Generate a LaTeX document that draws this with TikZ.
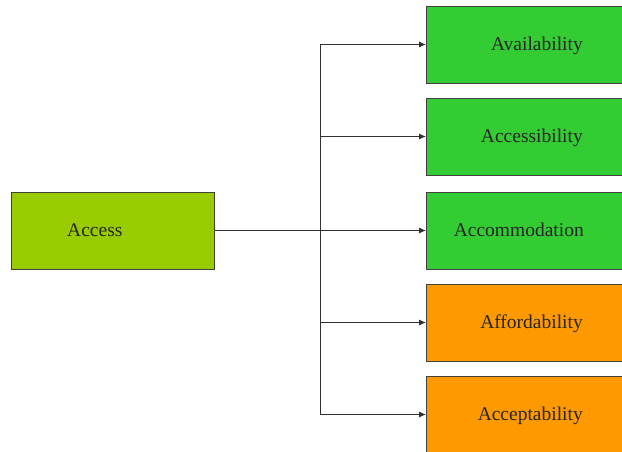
\documentclass[tikz,border=0pt]{standalone}
\usepackage{fontspec}
\setmainfont{Liberation Serif}
\usetikzlibrary{arrows.meta}
\definecolor{accessgreen}{HTML}{99CC00}
\definecolor{boxgreen}{HTML}{33CC33}
\definecolor{boxorange}{HTML}{FF9900}
\definecolor{edge}{HTML}{404040}
\definecolor{wire}{HTML}{303030}
\tikzset{
  box/.style={draw=edge, line width=0.9pt, minimum height=77pt, inner sep=0pt},
  rbox/.style={box, anchor=west, minimum width=214pt},
  lbl/.style={font=\fontsize{19.5}{23}\selectfont, text=black!85, inner sep=0pt},
  wireline/.style={draw=wire, line width=0.9pt},
  arrow/.style={wireline, -{Latex[length=7pt,width=6pt]}}
}
\begin{document}
\begin{tikzpicture}[x=1pt,y=-1pt]
  \clip (0,0) rectangle (622,452);
  \fill[white] (0,0) rectangle (622,452);

  % source box
  \node[box, fill=accessgreen, minimum width=203pt, anchor=west] (access) at (11,230.5) {};
  \node[lbl, anchor=base west] (accesstxt) at ([xshift=56pt,yshift=-5.5pt]access.west) {Access};

  % target boxes
  \node[rbox, fill=boxgreen]  (avail)  at (426,44.5)  {};
  \node[rbox, fill=boxgreen]  (accs)   at (426,136.5) {};
  \node[rbox, fill=boxgreen]  (accom)  at (426,230.5) {};
  \node[rbox, fill=boxorange] (afford) at (426,322.5) {};
  \node[rbox, fill=boxorange] (accept) at (426,414.5) {};

  \tikzset{rlbl/.style={lbl, anchor=base east}}
  \node[rlbl] (availtxt)  at ([xshift=157pt,yshift=-6pt]avail.west)  {Availability};
  \node[rlbl] (accstxt)   at ([xshift=157pt,yshift=-6pt]accs.west)   {Accessibility};
  \node[rlbl] (accomtxt)  at ([xshift=158pt,yshift=-6pt]accom.west)  {Accommodation};
  \node[rlbl] (affordtxt) at ([xshift=157pt,yshift=-6pt]afford.west) {Affordability};
  \node[rlbl] (accepttxt) at ([xshift=157pt,yshift=-6pt]accept.west) {Acceptability};

  % branching connectors
  \coordinate (fork) at (320.5,230.5);
  \draw[wireline] (fork |- avail.west) -- (fork |- accept.west);
  \draw[arrow] (access.east) -- (accom.west);
  \draw[arrow] (fork |- avail.west)  -- (avail.west);
  \draw[arrow] (fork |- accs.west)   -- (accs.west);
  \draw[arrow] (fork |- afford.west) -- (afford.west);
  \draw[arrow] (fork |- accept.west) -- (accept.west);
\end{tikzpicture}
\end{document}
